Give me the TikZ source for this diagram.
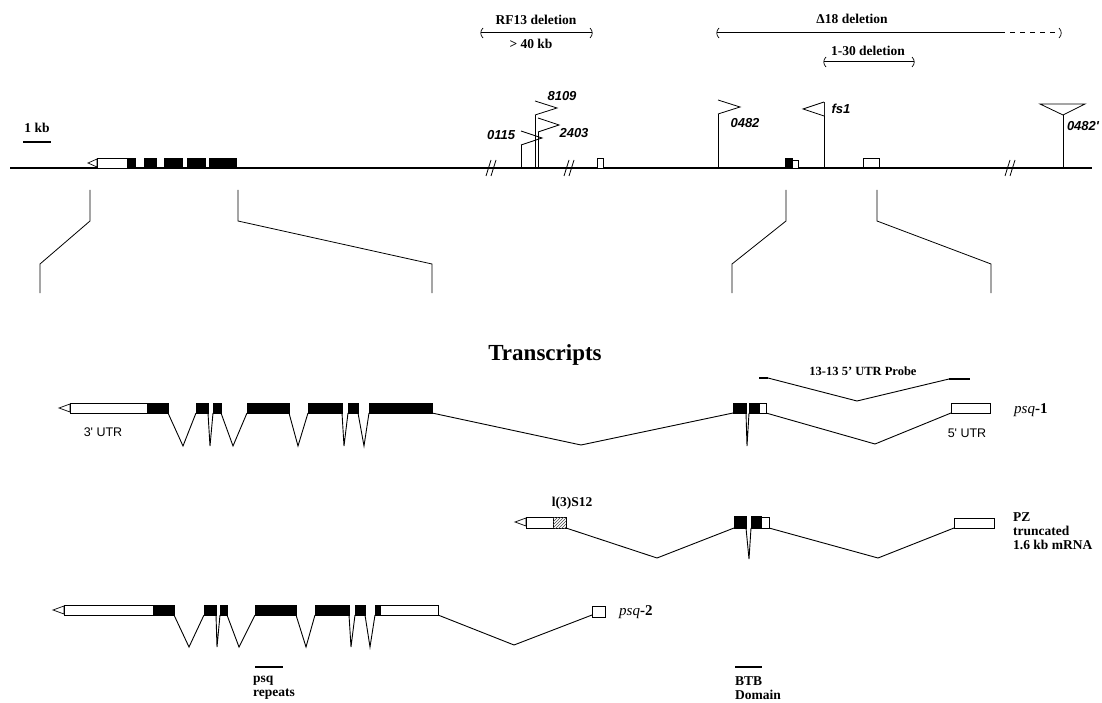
\documentclass[tikz,border=0pt]{standalone}
\usepackage{fontspec}
\setmainfont{Liberation Serif}
\newfontfamily\helv{Liberation Sans}
\usetikzlibrary{patterns}
\newcommand{\exon}[5]{%
  \draw[exbox, fill=#5] (#1,#3) rectangle (#2,#4);
}
\newcommand{\intron}[5]{%
  \draw[intr] (#1,#4) -- (#2,#5) -- (#3,#4);
}
\newcommand{\utrtip}[3]{%
  % open arrow tip at the 3' end of a transcript
  \draw[exbox, fill=white] (#2,{#3-4}) -- (#1,#3) -- (#2,{#3+4}) -- cycle;
}
\newcommand{\zoomline}[2]{%
  \draw[line width=0.8pt] (#1,190) -- (#1,221) -- (#2,264) -- (#2,293);
}
\newcommand{\brk}[1]{%
  \draw[line width=0.8pt] ({#1-4},176) -- ({#1+1},160) ({#1+1},176) -- ({#1+6},160);
}
\newcommand{\lparen}[2]{%
  \draw[line width=0.7pt] ({#1+2},{#2-4}) .. controls ({#1-1},{#2-1}) and ({#1-1},{#2+3}) .. ({#1+2},{#2+6});
}
\newcommand{\rparen}[2]{%
  \draw[line width=0.7pt] ({#1-2},{#2-4}) .. controls ({#1+1},{#2-1}) and ({#1+1},{#2+3}) .. ({#1-2},{#2+6});
}
\newcommand{\pflag}[3]{%
  \draw[line width=0.8pt] (#1,168) -- (#1,#2);
  \draw[line width=0.8pt, fill=white] (#1,#2) -- ({#1+#3},{#2+7}) -- (#1,{#2+14});
}
\tikzset{
  lbl/.style={font=\fontsize{13.5}{14}\selectfont\bfseries, inner sep=0pt},
  flaglbl/.style={font=\fontsize{13}{14}\selectfont\helv\bfseries\itshape, inner sep=0pt},
  utrlbl/.style={font=\fontsize{12.5}{14}\selectfont\helv, inner sep=0pt},
  genelbl/.style={font=\fontsize{15}{16}\selectfont\bfseries, inner sep=0pt, anchor=west},
  exbox/.style={draw, line width=0.7pt},
  intr/.style={line width=0.9pt},
  bar/.style={line width=2.4pt},
}

\begin{document}
\begin{tikzpicture}[x=1pt, y=-1pt]
  \useasboundingbox (0,0) rectangle (1102,703);

  % deletions
  \node[lbl] (rf13) at (536,20) {RF13 deletion};
  \draw[line width=0.7pt] (481,32) -- (592,32);
  \lparen{481}{32}\rparen{592}{32}
  \node[lbl] (kb40) at (531,44) {> 40 kb};
  \node[lbl] (d18) at (852,19) {Δ18 deletion};
  \draw[line width=0.7pt] (717,32) -- (1000,32);
  \draw[line width=0.7pt, dash pattern=on 5pt off 5pt] (1000,32) -- (1058,32);
  \lparen{717}{32}\rparen{1061}{32}
  \node[lbl] (d130) at (868,51) {1-30 deletion};
  \draw[line width=0.7pt] (824,61) -- (914,61);
  \lparen{824}{61}\rparen{914}{61}

  % genomic map
  \node[lbl] (kb) at (37,128) {1 kb};
  \draw[bar] (23,142) -- (51,142);
  \draw[line width=2.6pt] (10,168) -- (1092,168);
  \utrtip{88}{97}{163}
  \exon{97}{127}{158}{168}{white}
  \foreach \a/\b in {127/135, 144/156, 164/182, 187/205, 209/236}
    {\exon{\a}{\b}{158}{168}{black}}
  \exon{597}{603}{158}{168}{white}
  \exon{785}{792}{158}{168}{black}
  \exon{792}{798}{160}{168}{white}
  \exon{863}{879}{158}{167}{white}
  \brk{490}\brk{568}\brk{1009}

  % insertions
  \pflag{521}{131}{21}
  \pflag{535}{101}{22}
  \pflag{538}{118}{21}
  \pflag{718}{100}{22}
  \pflag{824}{102}{-21}
  \draw[line width=0.8pt] (1063,168) -- (1063,115);
  \draw[line width=0.8pt, fill=white] (1040,104) -- (1085,104) -- (1063,115) -- cycle;
  \node[flaglbl] (f0115) at (501,135) {0115};
  \node[flaglbl] (f8109) at (562,96) {8109};
  \node[flaglbl] (f2403) at (574,133) {2403};
  \node[flaglbl] (f0482) at (745,123) {0482};
  \node[flaglbl] (ffs1) at (841,109) {fs1};
  \node[flaglbl] (f0482b) at (1083,126) {0482'};

  \zoomline{90}{40}
  \zoomline{238}{432}
  \zoomline{786}{732}
  \zoomline{877}{991}

  \node[font=\fontsize{23}{24}\selectfont\bfseries, inner sep=0pt] (title) at (545,355) {Transcripts};

  % psq-1
  \node[lbl, font=\fontsize{12.5}{14}\selectfont\bfseries] (probe) at (863,371) {13-13 5' UTR Probe};
  \draw[bar] (759,378) -- (768,378);
  \draw[bar] (949,379) -- (970,379);
  \draw[intr] (768,378) -- (857,401) -- (949,379);
  \utrtip{59}{70}{408}
  \exon{70}{147}{403}{413}{white}
  \foreach \a/\b in {147/168, 196/208, 213/221, 247/289, 308/342, 348/358, 369/432, 733/746, 749/759}
    {\exon{\a}{\b}{403}{413}{black}}
  \exon{759}{766}{403}{413}{white}
  \exon{951}{990}{403}{413}{white}
  \foreach \a/\m/\b in {168/183/196, 208/210/213, 221/233/247, 289/298/308, 342/344/348, 358/364/369, 746/747/749}
    {\intron{\a}{\m}{\b}{413}{446}}
  \intron{432}{581}{733}{413}{445}
  \intron{766}{875}{951}{413}{444}
  \node[utrlbl] (utr3) at (103,432) {3' UTR};
  \node[utrlbl] (utr5) at (967,433) {5' UTR};
  \node[genelbl] (psq1) at (1014,410) {\textit{\mdseries psq}-1};

  % PZ
  \node[lbl] (s12) at (572,503) {l(3)S12};
  \utrtip{515}{526}{522}
  \exon{526}{553}{517}{528}{white}
  \exon{553}{566}{517}{528}{white}
  \fill[pattern=north east lines, pattern color=black!70] (553,517) rectangle (566,528);
  \foreach \a/\b in {734/746, 751/761}
    {\exon{\a}{\b}{516}{528}{black}}
  \exon{761}{769}{517}{528}{white}
  \exon{954}{994}{518}{528}{white}
  \intron{566}{657}{734}{528}{558}
  \intron{746}{749}{751}{528}{559}
  \intron{769}{878}{954}{528}{558}
  \node[lbl, anchor=north west, align=left] (pz) at (1013,512) {PZ\\truncated\\1.6 kb mRNA};

  % psq-2
  \utrtip{53}{64}{610}
  \exon{64}{153}{605}{615}{white}
  \foreach \a/\b in {153/174, 204/216, 220/227, 255/296, 315/349, 355/365, 375/380}
    {\exon{\a}{\b}{605}{615}{black}}
  \exon{380}{438}{605}{615}{white}
  \exon{592}{605}{606}{617}{white}
  \foreach \a/\m/\b in {174/189/204, 216/217/220, 227/239/255, 296/306/315, 349/351/355, 365/370/375}
    {\intron{\a}{\m}{\b}{615}{647}}
  \intron{438}{514}{592}{615}{645}
  \node[genelbl] (psq2) at (619,612) {\textit{\mdseries psq}-2};

  % domains
  \draw[bar] (255,667) -- (283,667);
  \node[lbl, anchor=north west, align=left] (rep) at (253,676) {psq\\repeats};
  \draw[bar] (735,667) -- (762,667);
  \node[lbl, anchor=north west, align=left] (btb) at (735,676) {BTB\\Domain};
\end{tikzpicture}
\end{document}
